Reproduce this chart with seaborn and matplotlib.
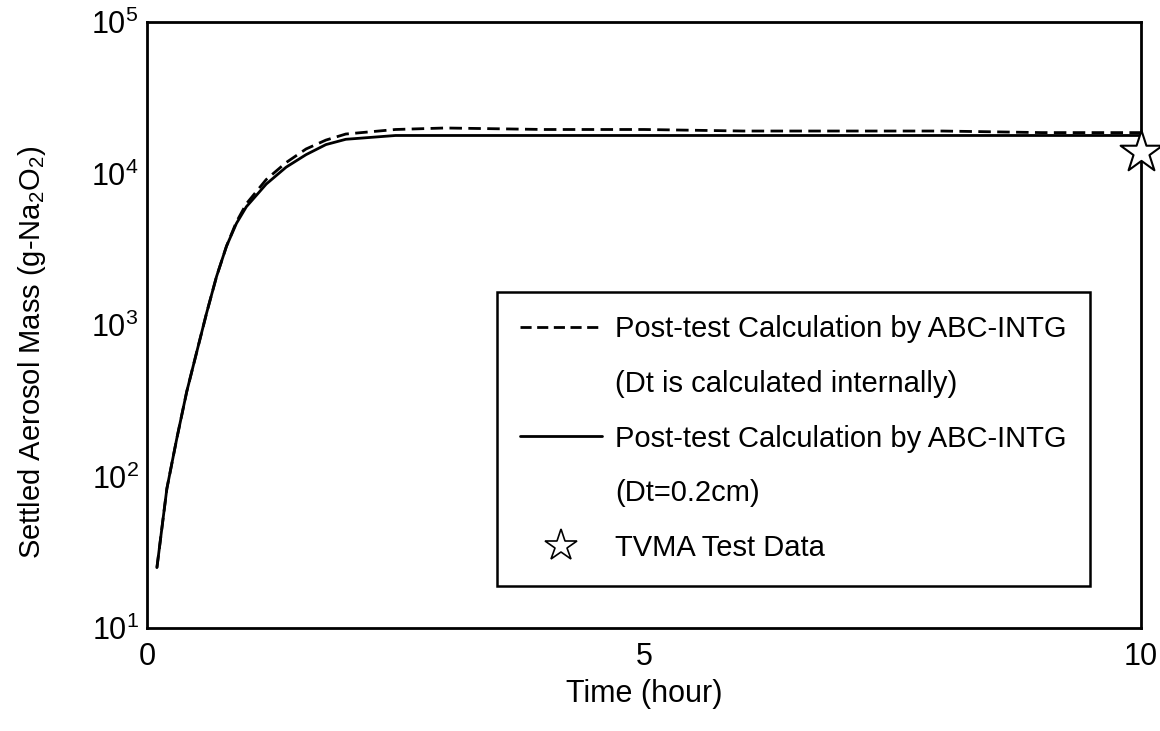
import math
import matplotlib
matplotlib.use("Agg")
import matplotlib.pyplot as plt
from matplotlib.lines import Line2D
import matplotlib.ticker as mticker
import seaborn as sns
import pandas as pd

# ---- data ----
time_h = [0.1, 0.2, 0.3, 0.4, 0.5, 0.6, 0.7, 0.8, 0.9, 1.0, 1.2, 1.4, 1.6, 1.8,
          2.0, 2.5, 3.0, 4.0, 5.0, 6.0, 7.0, 8.0, 9.0, 10.0]
mass_internal_dt = [25, 83, 178, 363, 661, 1200, 2090, 3310, 4790, 6310, 9120,
                    11800, 14500, 16600, 18200, 19500, 19950, 19500, 19500,
                    19050, 19050, 19050, 18600, 18600]
mass_dt_02cm = [25, 83, 178, 363, 661, 1200, 2090, 3310, 4680, 6030, 8510,
                11000, 13300, 15500, 16800, 17800, 17800, 17800, 17800, 17800,
                17800, 17800, 17800, 17800]
test_time = [10.0]
test_mass = [13800]

label_dashed = ["Post-test Calculation by ABC-INTG", "(Dt is calculated internally)"]
label_solid = ["Post-test Calculation by ABC-INTG", "(Dt=0.2cm)"]
label_test = "TVMA Test Data"
x_ticks = [0, 5, 10]
y_ticks = [1e1, 1e2, 1e3, 1e4, 1e5]

sns.set_theme(style="white")
FONT = ["Liberation Sans", "DejaVu Sans"]
plt.rcParams["font.family"] = FONT
plt.rcParams["mathtext.fontset"] = "custom"
plt.rcParams["mathtext.rm"] = "Liberation Sans"
for k in ["text.color", "axes.labelcolor", "xtick.color", "ytick.color", "axes.edgecolor"]:
    plt.rcParams[k] = "black"

fig = plt.figure(figsize=(11.6, 7.31), dpi=100)
ax = fig.add_axes([0.1267, 0.141, 0.857, 0.829])

df = pd.DataFrame({"t": time_h, "a": mass_internal_dt, "b": mass_dt_02cm})
sns.lineplot(data=df, x="t", y="a", ax=ax, color="black", lw=2.0, linestyle="--")
sns.lineplot(data=df, x="t", y="b", ax=ax, color="black", lw=2.0)
ax.lines[0].set_dashes((4.5, 2.3))
sns.scatterplot(x=test_time, y=test_mass, ax=ax, marker="*", s=1000,
                facecolor="white", edgecolor="black", linewidth=1.5,
                clip_on=False, zorder=5)

ax.set_yscale("log")
ax.set_xlim(0, 10)
ax.set_ylim(10, 1e5)
ax.set_xticks(x_ticks)
ax.xaxis.set_minor_locator(mticker.MultipleLocator(1))
ax.set_yticks(y_ticks)
ax.yaxis.set_minor_locator(mticker.NullLocator())
ax.yaxis.set_major_formatter(mticker.FuncFormatter(
    lambda v, p: r"$\mathregular{10^{%d}}$" % round(math.log10(v))))
ax.tick_params(axis="both", which="both", direction="in", colors="black",
               labelsize=22, width=2, top=False, right=False)
ax.tick_params(axis="x", which="both", length=9, pad=10)
ax.tick_params(axis="y", which="major", length=14, pad=6)
for s in ax.spines.values():
    s.set_color("black")
    s.set_linewidth(2.0)

ax.set_xlabel("Time (hour)", fontsize=22)
ax.xaxis.set_label_coords(0.5, -0.085)
ax.set_ylabel(r"Settled Aerosol Mass (g-Na$\mathregular{_2}$O$\mathregular{_2}$)",
              fontsize=21)
ax.yaxis.set_label_coords(-0.1, 0.455)

blank = Line2D([], [], color="none")
h_dash = Line2D([], [], color="black", lw=2.0, linestyle="--", dashes=(4.0, 2.0))
h_solid = Line2D([], [], color="black", lw=2.0)
h_star = Line2D([], [], color="none", marker="*", markersize=24,
                markerfacecolor="white", markeredgecolor="black", markeredgewidth=1.2)
handles = [h_dash, blank, h_solid, blank, h_star]
labels = [label_dashed[0], label_dashed[1], label_solid[0], label_solid[1], label_test]
leg = ax.legend(handles, labels, loc="upper left", bbox_to_anchor=(0.352, 0.555),
                fontsize=21, frameon=True, fancybox=False, edgecolor="black",
                framealpha=1.0, handlelength=2.8, handletextpad=0.45,
                labelspacing=0.92, borderpad=0.8, borderaxespad=0)
leg.get_frame().set_linewidth(1.8)
for t in leg.get_texts():
    t.set_color("black")

fig.savefig("out.png", dpi=100)
